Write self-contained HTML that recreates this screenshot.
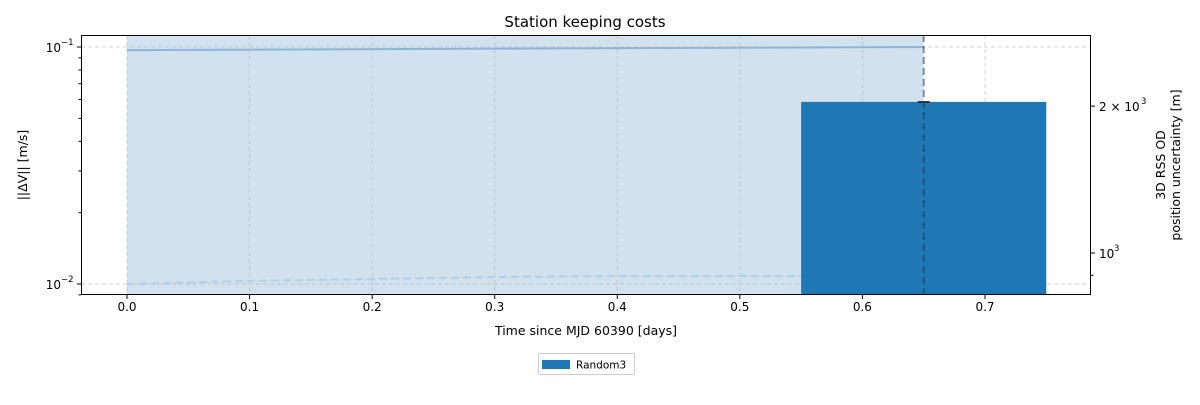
<!DOCTYPE html>
<html><head><meta charset="utf-8"><style>
body{margin:0;background:#fff}
svg text{font-family:"DejaVu Sans","Liberation Sans",sans-serif;fill:#000}
</style></head><body>
<svg id="chart" width="1200" height="400" xmlns="http://www.w3.org/2000/svg">
<text x="585" y="27" font-size="15" text-anchor="middle">Station keeping costs</text>
<g id="plot"></g>
<text x="586" y="335" font-size="12.5" text-anchor="middle">Time since MJD 60390 [days]</text>
<text transform="translate(27,165) rotate(-90)" font-size="12.5" text-anchor="middle">||ΔV|| [m/s]</text>
<text transform="translate(1165,165) rotate(-90)" font-size="12.5" text-anchor="middle">3D RSS OD</text>
<text transform="translate(1180,165) rotate(-90)" font-size="12.5" text-anchor="middle">position uncertainty [m]</text>
<g>
<rect x="538.5" y="353.5" width="96" height="21" rx="2" fill="#fff" stroke="#ccc"/>
<rect x="542" y="360" width="28" height="9" fill="#1f77b4"/>
<text x="576" y="368.5" font-size="10.5">Random3</text>
</g>
</svg>
<script>
const xTicks=[0.0,0.1,0.2,0.3,0.4,0.5,0.6,0.7];
const leftTicks=[0.1,0.01];
const leftTickLabels=["10","10"];
const rightTicks=[2000,1000];
const shadeRange=[0.0,0.65];
const solidX=[0.0,0.65];
const solidY=[0.097,0.1];
const dashX=[0.0,0.1,0.2,0.3,0.4,0.55];
const dashY=[0.01,0.0103,0.0105,0.0107,0.0108,0.0108];
const barCats=["Random3"];
const barX=[0.65];
const barW=[0.2];
const barVal=[2040];
const vline=[0.65];

const L=81,R=1091,T=35,B=295;
const x=v=>127+1225.7*v;
const yl=v=>47+(-1-Math.log10(v))*237;
const yr=v=>253-(Math.log10(v)-3)*488;
const NS="http://www.w3.org/2000/svg";
const g=document.getElementById('plot');
function mk(t,a){const e=document.createElementNS(NS,t);for(const k in a)e.setAttribute(k,a[k]);g.appendChild(e);return e;}

let e=mk('rect',{x:x(shadeRange[0]),y:T,width:x(shadeRange[1])-x(shadeRange[0]),height:B-T,fill:'#d1e2ee'});


xTicks.forEach(v=>{const l=mk('line',{x1:x(v),x2:x(v),y1:T,y2:B,stroke:'#b0b0b0','stroke-opacity':0.6,'stroke-dasharray':'4,3','stroke-width':0.9});

});
leftTicks.forEach(v=>{const l=mk('line',{x1:L,x2:R,y1:yl(v),y2:yl(v),stroke:'#b0b0b0','stroke-opacity':0.6,'stroke-dasharray':'4,3','stroke-width':0.9});

});
e=mk('polyline',{points:solidX.map((v,i)=>x(v)+','+yl(solidY[i])).join(' '),fill:'none',stroke:'#8fb5d8','stroke-width':2});


e=mk('polyline',{points:dashX.map((v,i)=>x(v)+','+yl(dashY[i])).join(' '),fill:'none',stroke:'#b3cfe6','stroke-width':2,'stroke-dasharray':'8,4'});


barX.forEach((v,i)=>{const r=mk('rect',{x:x(v-barW[i]/2),y:yr(barVal[i]),width:x(v+barW[i]/2)-x(v-barW[i]/2),height:B-yr(barVal[i]),fill:'#1f77b4'});


const c=mk('line',{x1:x(v)-6,x2:x(v)+6,y1:yr(barVal[i]),y2:yr(barVal[i]),stroke:'#000','stroke-width':1.3});

});
vline.forEach(v=>{const l=mk('line',{x1:x(v),x2:x(v),y1:T,y2:B,stroke:'#1a3c55','stroke-opacity':0.55,'stroke-width':2,'stroke-dasharray':'7,4'});

});
e=mk('rect',{x:L+0.5,y:T+0.5,width:R-L-1,height:B-T-1,fill:'none',stroke:'#000','stroke-width':1});


xTicks.forEach(v=>{mk('line',{x1:x(v),x2:x(v),y1:B,y2:B+4,stroke:'#000'});
const t=mk('text',{x:x(v),y:B+16,'font-size':12,'text-anchor':'middle'});t.textContent=v.toFixed(1);

});
leftTicks.forEach((v,i)=>{mk('line',{x1:L-4,x2:L,y1:yl(v),y2:yl(v),stroke:'#000'});
const t=mk('text',{x:L-20,y:yl(v)+5,'font-size':12,'text-anchor':'end'});t.textContent=leftTickLabels[i];


const s=mk('text',{x:L-20,y:yl(v)-2,'font-size':8.5});s.textContent=i==0?'−1':'−2';});
[0.02,0.03,0.04,0.05,0.06,0.07,0.08,0.09,0.009].forEach(v=>mk('line',{x1:L-2.5,x2:L,y1:yl(v),y2:yl(v),stroke:'#000'}));
rightTicks.forEach(v=>{mk('line',{x1:R,x2:R+4,y1:yr(v),y2:yr(v),stroke:'#000'});
const t=mk('text',{x:R+8,y:yr(v)+5,'font-size':12});


if(v===2000){t.textContent='2 × 10';const s=mk('text',{x:R+50,y:yr(v)-2,'font-size':8.5});s.textContent='3';}
else{t.textContent='10';const s=mk('text',{x:R+23,y:yr(v)-2,'font-size':8.5});s.textContent='3';}});
[900].forEach(v=>mk('line',{x1:R,x2:R+2.5,y1:yr(v),y2:yr(v),stroke:'#000'}));
</script>
</body></html>
